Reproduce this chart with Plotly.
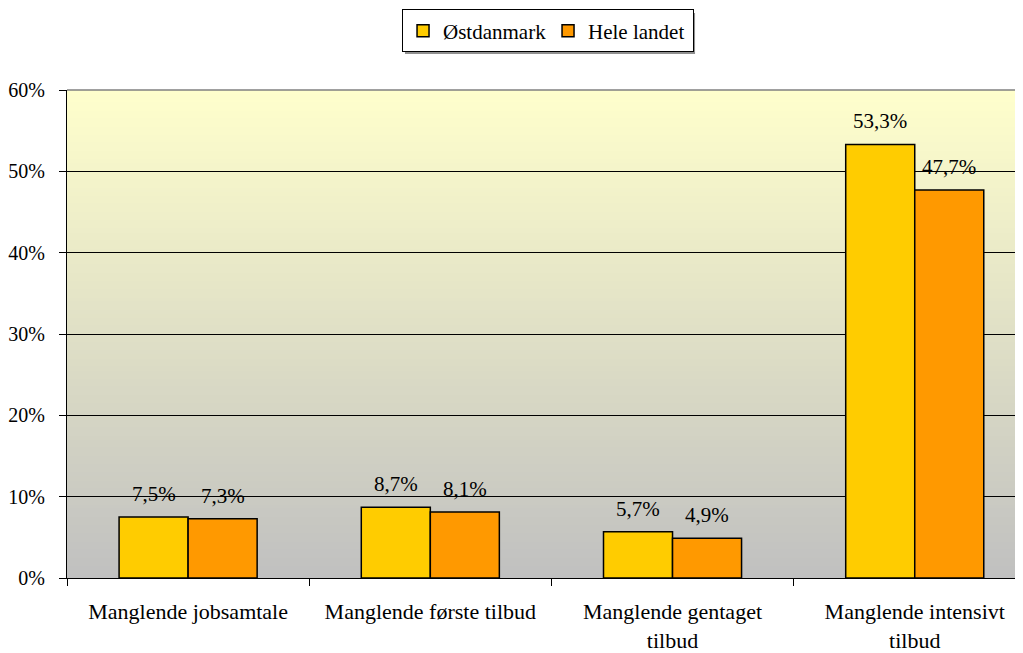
import plotly.graph_objects as go

categories = ["Manglende jobsamtale", "Manglende første tilbud",
              "Manglende gentaget<br>tilbud", "Manglende intensivt<br>tilbud"]
series_names = ["Østdanmark", "Hele landet"]
oest_values = [7.5, 8.7, 5.7, 53.3]
hele_values = [7.3, 8.1, 4.9, 47.7]
colors = ["#FFCC00", "#FF9900"]

FONT = "Times New Roman, Liberation Serif, serif"
BARGAP = 0.43


def fmt(v):
    return f"{v:.1f}".replace(".", ",") + "%"


fig = go.Figure()
annotations = []
half = (1 - BARGAP) / 2
for k, (name, vals, col) in enumerate(zip(series_names, [oest_values, hele_values], colors)):
    fig.add_trace(go.Bar(
        x=categories, y=vals, name=name,
        marker=dict(color=col, line=dict(color="black", width=1.5)),
    ))
    offset = (k - 0.5) * half
    for i, v in enumerate(vals):
        annotations.append(dict(x=i + offset, y=v, xref="x", yref="y", text=fmt(v),
                                showarrow=False, yanchor="bottom", yshift=9,
                                font=dict(family=FONT, size=21, color="black")))

# gradient background
shapes = []
n = 120
top = (255, 255, 204)
bot = (192, 192, 192)
for i in range(n):
    t = i / (n - 1)
    c = tuple(round(bot[j] + (top[j] - bot[j]) * t) for j in range(3))
    shapes.append(dict(type="rect", xref="x domain", yref="y domain",
                       x0=0, x1=1, y0=i / n, y1=min(1, (i + 1.6) / n),
                       fillcolor=f"rgb{c}", line=dict(width=0), layer="below"))
shapes.append(dict(type="line", xref="x domain", yref="y domain",
                   x0=0, x1=1, y0=1, y1=1, line=dict(color="#808080", width=1.5)))
# legend shadow
shapes.append(dict(type="rect", xref="paper", yref="paper",
                   x0=0.3506, x1=0.6515, y0=1.0738, y1=1.1578,
                   fillcolor="#909090", line=dict(width=0), layer="above"))

fig.update_layout(
    width=1023, height=653, autosize=False,
    margin=dict(l=59, r=0, t=82, b=83),
    paper_bgcolor="white", plot_bgcolor="rgba(0,0,0,0)",
    font=dict(family=FONT, size=20, color="black"),
    barmode="group", bargap=BARGAP, bargroupgap=0,
    shapes=shapes, annotations=annotations,
    legend=dict(orientation="h", x=0.499, xanchor="center", y=1.165, yanchor="top",
                bordercolor="black", borderwidth=1, bgcolor="white",
                entrywidth=100, itemwidth=30,
                font=dict(family=FONT, size=21)),
    xaxis=dict(range=[-0.5, 3.48], tickson="boundaries", ticks="outside", ticklen=7,
               tickcolor="black", showline=True, linecolor="black", linewidth=1,
               showgrid=False, tickangle=0, ticklabelstandoff=14,
               tickfont=dict(family=FONT, size=22)),
    yaxis=dict(range=[0, 60], dtick=10, ticksuffix="%", ticks="outside", ticklen=7,
               tickcolor="black", showline=True, linecolor="black", linewidth=1,
               showgrid=True, gridcolor="black", gridwidth=1, zeroline=False,
               ticklabelstandoff=10, tickfont=dict(family=FONT, size=20)),
)

fig.write_html("out.html")
